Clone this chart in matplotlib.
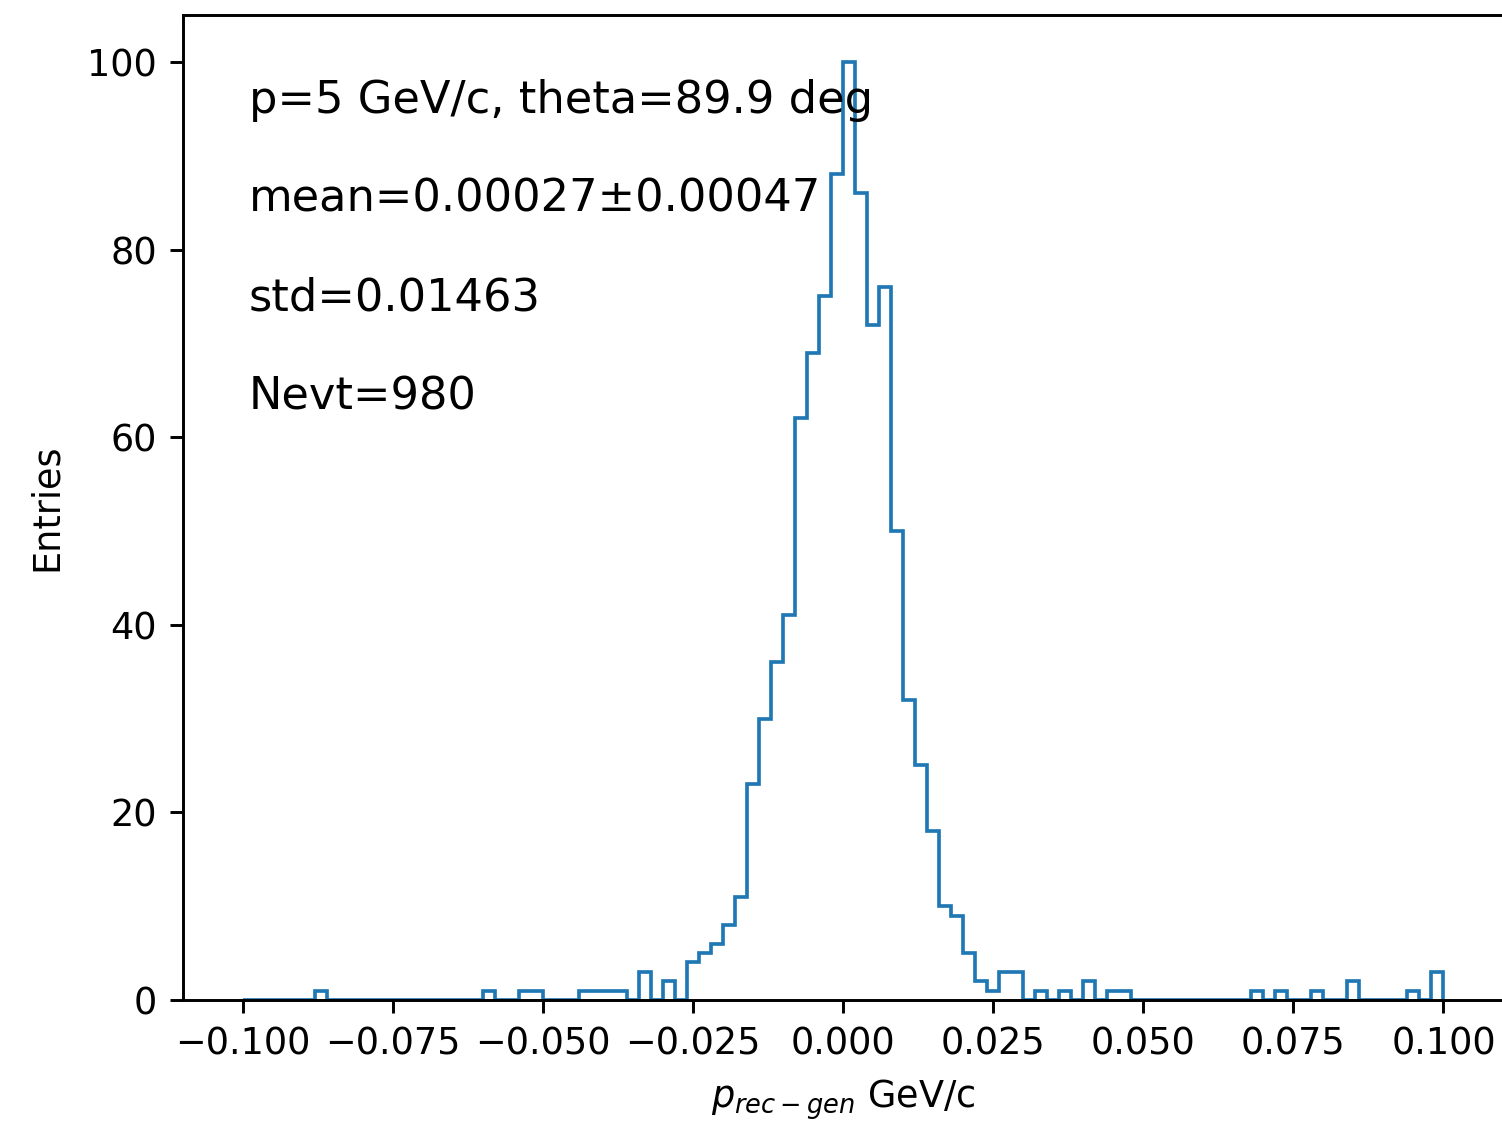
import numpy as np
import matplotlib
matplotlib.use("Agg")
import matplotlib.pyplot as plt

# bin edges: 100 bins from -0.1 to 0.1 GeV/c
edges = np.linspace(-0.1, 0.1, 101)

# entries per bin
counts = [
    0, 0, 0, 0, 0, 0, 1, 0, 0, 0,
    0, 0, 0, 0, 0, 0, 0, 0, 0, 0,
    1, 0, 0, 1, 1, 0, 0, 0, 1, 1,
    1, 1, 0, 3, 0, 2, 0, 4, 5, 6,
    8, 11, 23, 30, 36, 41, 62, 69, 75, 88,
    100, 86, 72, 76, 50, 32, 25, 18, 10, 9,
    5, 2, 1, 3, 3, 0, 1, 0, 1, 0,
    2, 0, 1, 1, 0, 0, 0, 0, 0, 0,
    0, 0, 0, 0, 1, 0, 1, 0, 0, 1,
    0, 0, 2, 0, 0, 0, 0, 1, 0, 3,
]

info_lines = [
    "p=5 GeV/c, theta=89.9 deg",
    "mean=0.00027\u00b10.00047",
    "std=0.01463",
    "Nevt=980",
]
info_y = [0.9, 0.8, 0.7, 0.6]

centers = 0.5 * (edges[:-1] + edges[1:])

DPI = 264
fig = plt.figure(figsize=(1502 / DPI, 1122 / DPI), dpi=DPI)
# right spine sits just past the image edge, as in the reference
ax = fig.add_axes([182.5 / 1502, 122 / 1122, 1321 / 1502, 985 / 1122])

ax.hist(centers, bins=edges, weights=counts, histtype='step')

for txt, y in zip(info_lines, info_y):
    ax.text(0.05, y, txt, transform=ax.transAxes, fontsize=12.2)

ax.set_xlabel(r"$p_{rec-gen}$ GeV/c")
ax.set_ylabel("Entries", labelpad=6)

fig.savefig("out.png", dpi=DPI)
